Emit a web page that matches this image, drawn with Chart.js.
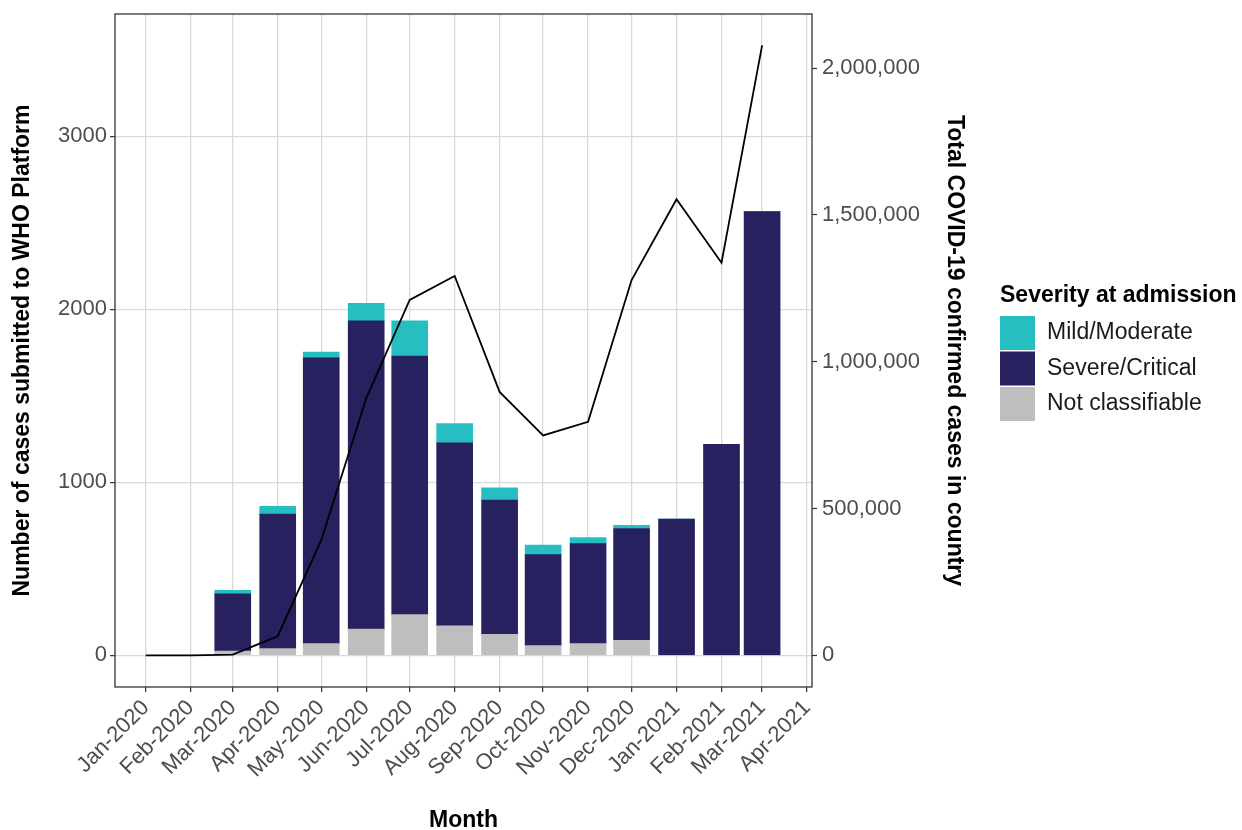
<!DOCTYPE html>
<html>
<head>
<meta charset="utf-8">
<script src="https://cdn.jsdelivr.net/npm/chart.js@4/dist/chart.umd.min.js"></script>
<style>
  html, body { margin: 0; padding: 0; background: #ffffff; }
  #wrap { width: 1242px; height: 830px; }
</style>
</head>
<body>
<div id="wrap"><canvas id="c" width="1242" height="830"></canvas></div>
<script>
// Month axis: tick positions (first of each month) and their labels
const monthStarts = ['2020-01-01','2020-02-01','2020-03-01','2020-04-01','2020-05-01','2020-06-01',
                     '2020-07-01','2020-08-01','2020-09-01','2020-10-01','2020-11-01','2020-12-01',
                     '2021-01-01','2021-02-01','2021-03-01','2021-04-01'];
const monthLabels = ['Jan-2020','Feb-2020','Mar-2020','Apr-2020','May-2020','Jun-2020',
                     'Jul-2020','Aug-2020','Sep-2020','Oct-2020','Nov-2020','Dec-2020',
                     'Jan-2021','Feb-2021','Mar-2021','Apr-2021'];

// Cases submitted to the platform, by severity at admission
const barMonths = ['2020-03-01','2020-04-01','2020-05-01','2020-06-01','2020-07-01','2020-08-01',
                   '2020-09-01','2020-10-01','2020-11-01','2020-12-01','2021-01-01','2021-02-01','2021-03-01'];
const notClassifiable = [25, 39, 68, 152, 235, 170, 122, 56, 68, 87, 0, 0, 0];
const severeCritical  = [330, 777, 1652, 1782, 1495, 1058, 775, 526, 578, 646, 787, 1219, 2565];
const mildModerate    = [21, 46, 33, 101, 204, 112, 71, 56, 35, 19, 0, 0, 0];

// Total confirmed COVID-19 cases in the country
const lineMonths = ['2020-01-01','2020-02-01','2020-03-01','2020-04-01','2020-05-01','2020-06-01',
                    '2020-07-01','2020-08-01','2020-09-01','2020-10-01','2020-11-01','2020-12-01',
                    '2021-01-01','2021-02-01','2021-03-01'];
const confirmedCases = [0, 0, 2000, 65000, 392000, 875000, 1210000, 1292000, 897000, 749000,
                        795000, 1278000, 1553000, 1337000, 2077000];

// Axis tick values
const casesTicks = [0, 1000, 2000, 3000];
const confirmedTicks = [0, 500000, 1000000, 1500000, 2000000];

// Days since 1 Jan 2020, used as the x value
const origin = Date.parse('2020-01-01');
const dayOf = s => (Date.parse(s) - origin) / 86400000;

const pts = (months, vals) => months.map((m, i) => ({ x: dayOf(m), y: vals[i] }));

const FONT = '"Liberation Sans", Arial, Helvetica, sans-serif';
const TICK_COLOR = '#4d4d4d';
const GRID_COLOR = '#d9d9d9';

// Panel border drawn above the data
const panelBorder = {
  id: 'panelBorder',
  afterDatasetsDraw(chart) {
    const { ctx, chartArea: a } = chart;
    ctx.save();
    ctx.strokeStyle = '#333333';
    ctx.lineWidth = 1.3;
    ctx.strokeRect(a.left, a.top, a.right - a.left, a.bottom - a.top);
    ctx.restore();
  }
};

// Legend for the severity categories, placed right of the secondary axis
const severityLegend = {
  id: 'severityLegend',
  afterDraw(chart) {
    const { ctx } = chart;
    const x0 = 1000, titleY = 296, firstY = 316, step = 35.5, keyW = 35, keyH = 34;
    ctx.save();
    ctx.textBaseline = 'middle';
    ctx.textAlign = 'left';
    ctx.fillStyle = '#000000';
    ctx.font = 'bold 23px ' + FONT;
    ctx.fillText('Severity at admission', x0, titleY);
    const items = chart.data.datasets.filter(d => d.type === 'bar').slice().reverse();
    ctx.font = '23px ' + FONT;
    items.forEach((d, i) => {
      const y = firstY + i * step;
      ctx.fillStyle = d.backgroundColor;
      ctx.fillRect(x0, y, keyW, keyH);
      ctx.fillStyle = '#1a1a1a';
      ctx.fillText(d.label, x0 + 47, y + keyH / 2);
    });
    ctx.restore();
  }
};

// Fixed axis widths; no extra room reserved for the outermost tick labels
const fitVertical = w => s => { s.width = w; s.paddingTop = 0; s.paddingBottom = 0; };

new Chart(document.getElementById('c'), {
  data: {
    datasets: [
      { type: 'bar', label: 'Not classifiable', data: pts(barMonths, notClassifiable),
        backgroundColor: '#bebebe', yAxisID: 'y', order: 1, barThickness: 36, borderWidth: 0 },
      { type: 'bar', label: 'Severe/Critical', data: pts(barMonths, severeCritical),
        backgroundColor: '#272160', yAxisID: 'y', order: 1, barThickness: 36, borderWidth: 0 },
      { type: 'bar', label: 'Mild/Moderate', data: pts(barMonths, mildModerate),
        backgroundColor: '#27bec2', yAxisID: 'y', order: 1, barThickness: 36, borderWidth: 0 },
      { type: 'line', label: 'Confirmed cases', data: pts(lineMonths, confirmedCases),
        yAxisID: 'y2', order: 0, borderColor: '#000000', borderWidth: 1.8,
        pointRadius: 0, tension: 0, fill: false }
    ]
  },
  options: {
    responsive: false,
    animation: false,
    devicePixelRatio: 1,
    layout: { padding: { top: 14, right: 270, bottom: 0, left: 0 } },
    plugins: { legend: { display: false }, tooltip: { enabled: false } },
    scales: {
      x: {
        type: 'linear',
        min: -21.2, max: 459.4,
        offset: false,
        stacked: true,
        afterBuildTicks: s => { s.ticks = monthStarts.map(m => ({ value: dayOf(m) })); },
        afterFit: s => { s.height = 143; },
        grid: { color: GRID_COLOR, lineWidth: 1.3, offset: false, drawTicks: true,
                tickLength: 5, tickColor: '#333333', tickWidth: 1.2 },
        border: { display: false },
        ticks: {
          autoSkip: false, minRotation: 45, maxRotation: 45, padding: 3,
          color: TICK_COLOR, font: { family: FONT, size: 22 },
          callback: (v, i) => monthLabels[i]
        },
        title: { display: true, text: 'Month', color: '#000000',
                 font: { family: FONT, size: 23, weight: 'bold', lineHeight: 0.8 },
                 padding: { top: 0, bottom: 0 } }
      },
      y: {
        type: 'linear', position: 'left',
        min: -183, max: 3707,
        stacked: true,
        afterBuildTicks: s => { s.ticks = casesTicks.map(v => ({ value: v })); },
        afterFit: fitVertical(115),
        grid: { color: GRID_COLOR, lineWidth: 1.3, drawTicks: true,
                tickLength: 5, tickColor: '#333333', tickWidth: 1.2 },
        border: { display: false },
        ticks: { padding: 3, color: TICK_COLOR, font: { family: FONT, size: 22 },
                 callback: v => String(v) },
        title: { display: true, text: 'Number of cases submitted to WHO Platform', color: '#000000',
                 font: { family: FONT, size: 23, weight: 'bold' },
                 padding: { top: 9, bottom: 0 } }
      },
      y2: {
        type: 'linear', position: 'right',
        min: -108000, max: 2184000,
        afterBuildTicks: s => { s.ticks = confirmedTicks.map(v => ({ value: v })); },
        afterFit: fitVertical(160),
        grid: { drawOnChartArea: false, drawTicks: true,
                tickLength: 5, tickColor: '#333333', tickWidth: 1.2 },
        border: { display: false },
        ticks: { padding: 5, color: TICK_COLOR, font: { family: FONT, size: 22 },
                 callback: v => v.toLocaleString('en-US') },
        title: { display: true, text: 'Total COVID-19 confirmed cases in country', color: '#000000',
                 font: { family: FONT, size: 23, weight: 'bold' },
                 padding: { top: 4, bottom: 0 } }
      }
    }
  },
  plugins: [panelBorder, severityLegend]
});
</script>
</body>
</html>
